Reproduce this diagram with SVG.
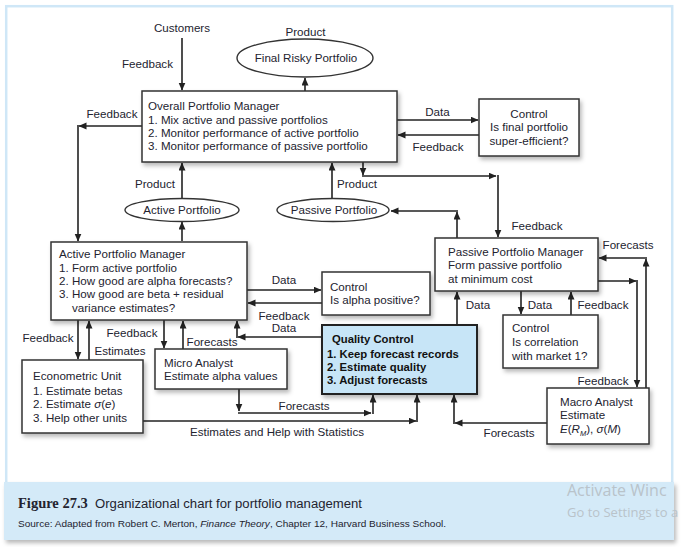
<svg xmlns="http://www.w3.org/2000/svg" width="686" height="547" viewBox="0 0 686 547">
<style>
text{font-family:"Liberation Sans",Arial,sans-serif;font-size:11.6px;fill:#23232f}
.c{text-anchor:middle}
.b{font-weight:bold;font-size:11.3px;fill:#111}
.box{fill:#fff;stroke:#333;stroke-width:1.5}
.ell{fill:#fff;stroke:#333;stroke-width:1.4}
.ln{fill:none;stroke:#222;stroke-width:1.6;marker-end:url(#ah)}
.it{font-style:italic}
.wm{font-family:"Open Sans","Noto Sans",sans-serif;fill:#b9c3ca}
</style>
<defs>
<marker id="ah" markerUnits="userSpaceOnUse" markerWidth="8" markerHeight="8" refX="7.5" refY="3.5" orient="auto">
<path d="M0,0 L8,3.5 L0,7 z" fill="#222"/>
</marker>
<filter id="sh" x="-10%" y="-10%" width="130%" height="140%">
<feDropShadow dx="2" dy="3" stdDeviation="2" flood-color="#000" flood-opacity="0.28"/>
</filter>
</defs>

<rect x="0" y="0" width="686" height="547" fill="#fff"/>
<rect x="6.2" y="6.2" width="666" height="480" fill="#fff" stroke="#cfe7f7" stroke-width="2.5"/>

<g id="caption">
<rect x="4" y="482" width="670" height="58" fill="#d4eaf8" filter="url(#sh)"/>
<text x="18" y="508" style="font-family:'Liberation Serif','Times New Roman',serif;font-weight:bold;font-size:14.5px" fill="#1a1a1a">Figure 27.3</text>
<text x="95" y="508" style="font-size:12.5px" textLength="267" lengthAdjust="spacingAndGlyphs">Organizational chart for portfolio management</text>
<text x="18" y="527" style="font-size:9.5px" textLength="428" lengthAdjust="spacingAndGlyphs">Source: Adapted from Robert C. Merton, <tspan class="it">Finance Theory</tspan>, Chapter 12, Harvard Business School.</text>
<text class="wm" x="567" y="496" style="font-size:16px">Activate Winc</text>
<text class="wm" x="567" y="517" style="font-size:13px">Go to Settings to a</text>
</g>

<g id="connectors">
<path class="ln" d="M182,38 V90"/>
<path class="ln" d="M305,91 V78"/>
<path class="ln" d="M397,120 H478"/>
<path class="ln" d="M479,135 H398"/>
<path class="ln" d="M142,126 H79"/>
<path class="ln" d="M78,125 V241"/>
<path class="ln" d="M182,199 V163"/>
<path class="ln" d="M182,241 V222"/>
<path class="ln" d="M332,199 V163"/>
<path class="ln" d="M363,162 V175"/>
<path class="ln" d="M362,176 H496"/>
<path class="ln" d="M498,175 V237"/>
<path class="ln" d="M457,238 V212"/>
<path class="ln" d="M458,211 H391"/>
<path class="ln" d="M247,290 H321"/>
<path class="ln" d="M322,303 H248"/>
<path class="ln" d="M322,337 H238"/>
<path class="ln" d="M237,338 V321"/>
<path class="ln" d="M646,388 V259"/>
<path class="ln" d="M647,258 H599"/>
<path class="ln" d="M598,281 H636"/>
<path class="ln" d="M637,280 V387"/>
<path class="ln" d="M521,291 V314"/>
<path class="ln" d="M571,315 V292"/>
<path class="ln" d="M457,325 V292"/>
<path class="ln" d="M547,423 H455"/>
<path class="ln" d="M454,424 V395"/>
<path class="ln" d="M78,320 V359"/>
<path class="ln" d="M89,360 V321"/>
<path class="ln" d="M164,320 V348"/>
<path class="ln" d="M183,349 V321"/>
<path class="ln" d="M239,389 V411"/>
<path class="ln" d="M238,413 H371"/>
<path class="ln" d="M373,414 V395"/>
<path class="ln" d="M143,421 H416"/>
<path class="ln" d="M417,422 V395"/>

<text class="c" x="147.5" y="68">Feedback</text>
<text class="c" x="112" y="118">Feedback</text>
<text class="c" x="437.5" y="116">Data</text>
<text class="c" x="438" y="151">Feedback</text>
<text class="c" x="155" y="188">Product</text>
<text class="c" x="357" y="188">Product</text>
<text class="c" x="537" y="230">Feedback</text>
<text class="c" x="628" y="249">Forecasts</text>
<text class="c" x="284" y="284">Data</text>
<text class="c" x="284" y="320">Feedback</text>
<text class="c" x="284" y="332">Data</text>
<text class="c" x="478" y="309">Data</text>
<text class="c" x="540" y="309">Data</text>
<text class="c" x="603" y="309">Feedback</text>
<text class="c" x="48" y="342">Feedback</text>
<text class="c" x="132" y="337">Feedback</text>
<text class="c" x="120" y="355">Estimates</text>
<text class="c" x="212" y="346">Forecasts</text>
<text class="c" x="603" y="385">Feedback</text>
<text class="c" x="304" y="410">Forecasts</text>
<text class="c" x="277" y="436">Estimates and Help with Statistics</text>
<text class="c" x="509" y="437">Forecasts</text>
</g>

<g id="customers">
<text class="c" x="182" y="32">Customers</text>
</g>

<g id="final-risky-portfolio">
<text class="c" x="305.5" y="36">Product</text>
<ellipse class="ell" cx="305" cy="58" rx="68" ry="19"/>
<text class="c" x="306" y="62">Final Risky Portfolio</text>
</g>

<g id="overall-pm">
<rect class="box" x="142" y="91" width="255" height="71" filter="url(#sh)"/>
<text x="148" y="110">Overall Portfolio Manager</text>
<text x="148" y="123.5">1. Mix active and passive portfolios</text>
<text x="148" y="137">2. Monitor performance of active portfolio</text>
<text x="148" y="150">3. Monitor performance of passive portfolio</text>
</g>

<g id="control-final">
<rect class="box" x="479" y="99" width="100" height="57" filter="url(#sh)"/>
<text class="c" x="529" y="118">Control</text>
<text class="c" x="529" y="131">Is final portfolio</text>
<text class="c" x="529" y="145">super-efficient?</text>
</g>

<g id="active-portfolio">
<ellipse class="ell" cx="182" cy="210" rx="57" ry="11.5"/>
<text class="c" x="182" y="214">Active Portfolio</text>
</g>

<g id="passive-portfolio">
<ellipse class="ell" cx="333" cy="210" rx="56" ry="11.5"/>
<text class="c" x="334" y="214">Passive Portfolio</text>
</g>

<g id="active-pm">
<rect class="box" x="51" y="242" width="196" height="78" filter="url(#sh)"/>
<text x="59" y="258">Active Portfolio Manager</text>
<text x="59" y="272">1. Form active portfolio</text>
<text x="59" y="285">2. How good are alpha forecasts?</text>
<text x="59" y="298">3. How good are beta + residual</text>
<text x="72" y="312">variance estimates?</text>
</g>

<g id="control-alpha">
<rect class="box" x="322" y="272" width="108" height="43" filter="url(#sh)"/>
<text x="330" y="291">Control</text>
<text x="330" y="304">Is alpha positive?</text>
</g>

<g id="passive-pm">
<rect class="box" x="435" y="238" width="163" height="53" filter="url(#sh)"/>
<text x="448" y="256">Passive Portfolio Manager</text>
<text x="448" y="269">Form passive portfolio</text>
<text x="448" y="283">at minimum  cost</text>
</g>

<g id="control-correlation">
<rect class="box" x="503" y="315" width="95" height="53" filter="url(#sh)"/>
<text x="512" y="332">Control</text>
<text x="512" y="346">Is correlation</text>
<text x="512" y="360">with market 1?</text>
</g>

<g id="quality-control">
<rect x="322" y="325" width="155" height="69" fill="#c7e5f7" stroke="#222" stroke-width="2" filter="url(#sh)"/>
<text class="b" x="332" y="343">Quality Control</text>
<text class="b" x="327" y="358">1. Keep forecast records</text>
<text class="b" x="327" y="371">2. Estimate quality</text>
<text class="b" x="327" y="384">3. Adjust forecasts</text>
</g>

<g id="econometric-unit">
<rect class="box" x="22" y="360" width="121" height="73" filter="url(#sh)"/>
<text x="33" y="380">Econometric Unit</text>
<text x="33" y="395">1. Estimate betas</text>
<text x="33" y="408">2. Estimate <tspan class="it">σ</tspan>(<tspan class="it">e</tspan>)</text>
<text x="33" y="422">3. Help other units</text>
</g>

<g id="micro-analyst">
<rect class="box" x="155" y="349" width="132" height="40" filter="url(#sh)"/>
<text x="164" y="367">Micro Analyst</text>
<text x="164" y="380">Estimate alpha values</text>
</g>

<g id="macro-analyst">
<rect class="box" x="547" y="388" width="102" height="56" filter="url(#sh)"/>
<text x="560" y="406">Macro Analyst</text>
<text x="560" y="419">Estimate</text>
<text x="560" y="433"><tspan class="it">E</tspan>(<tspan class="it">R</tspan><tspan class="it" dy="2.5" font-size="7.5">M</tspan><tspan dy="-2.5">), </tspan><tspan class="it">σ</tspan>(<tspan class="it">M</tspan>)</text>
</g>
</svg>
